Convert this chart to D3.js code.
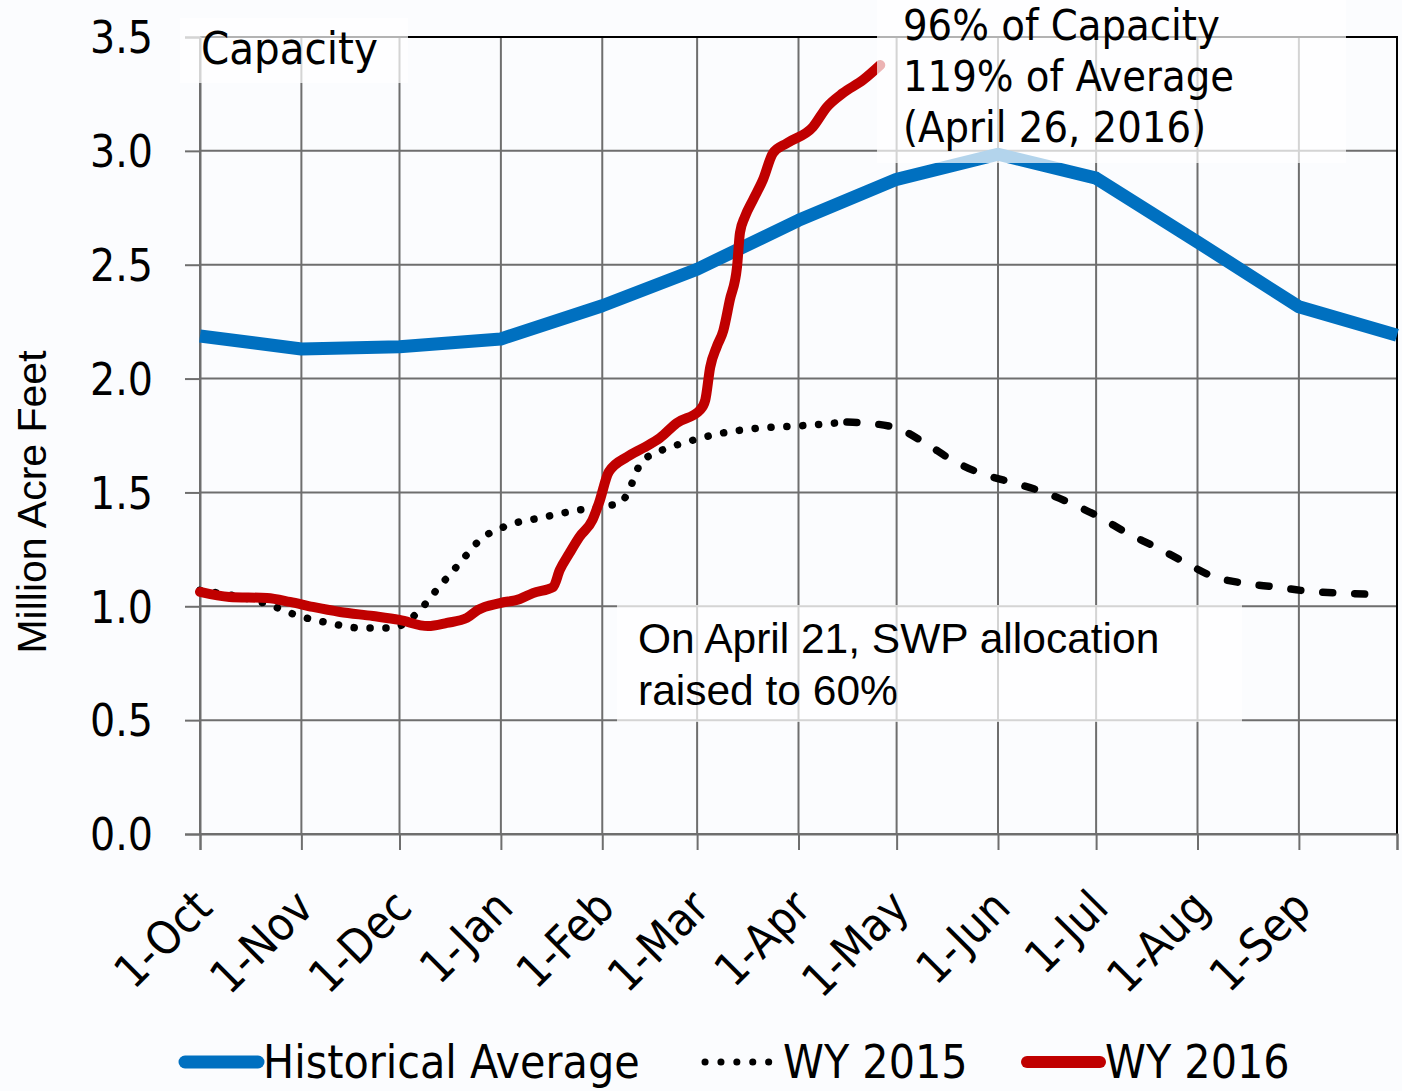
<!DOCTYPE html>
<html>
<head>
<meta charset="utf-8">
<script src="https://cdn.jsdelivr.net/npm/d3@7"></script>
<style>
  html, body { margin: 0; padding: 0; background: #fbfcfe; }
  svg { display: block; }
  .tah { font-family: "DejaVu Sans Condensed", "DejaVu Sans", sans-serif; font-stretch: condensed; }
  .ari { font-family: "Liberation Sans", Arial, sans-serif; }
</style>
</head>
<body>
<script>
// ---------- DATA ----------
const monthDates = ["2015-10-01","2015-11-01","2015-12-01","2016-01-01","2016-02-01","2016-03-01",
                    "2016-04-01","2016-05-01","2016-06-01","2016-07-01","2016-08-01","2016-09-01","2016-10-01"];
const monthLabels = ["1-Oct","1-Nov","1-Dec","1-Jan","1-Feb","1-Mar","1-Apr","1-May","1-Jun","1-Jul","1-Aug","1-Sep",""];
const historicalAverage = [2.187, 2.13, 2.14, 2.174, 2.32, 2.48, 2.695, 2.875, 2.985, 2.88, 2.6, 2.315, 2.19];

// days after 1-Oct
const wy2015Days = [0, 20.5, 29.7, 39.4, 48.9, 58.7, 62, 66.7, 72.8, 79.2, 85.6, 94.5, 104, 114, 123.5, 128.7,
                    131, 135, 139.4, 149, 158.4, 168.5, 183, 197.8, 203, 213, 221.7, 230, 238.5, 247.7, 257,
                    266, 275, 283.4, 292.3, 300.9, 309.4, 318.9, 328.7, 338.5, 348.3, 360.8];
const wy2015Values = [1.07, 1.01, 0.96, 0.927, 0.905, 0.905, 0.92, 0.975, 1.08, 1.186, 1.291, 1.357, 1.388, 1.418, 1.44, 1.454,
                      1.506, 1.634, 1.673, 1.722, 1.757, 1.779, 1.792, 1.809, 1.805, 1.783, 1.717, 1.642, 1.585, 1.546, 1.506,
                      1.454, 1.392, 1.322, 1.26, 1.195, 1.133, 1.102, 1.085, 1.067, 1.058, 1.052];
const wy2015DashFromDay = 200;

const wy2016Days = [0, 9, 20.5, 27.5, 34.5, 42.8, 52.9, 61, 69.7, 75.5, 81.6, 85, 91.7, 97.8, 101.8, 108,
                    110, 113, 116, 120, 122, 125, 130.6, 135.5, 140.6, 145.8, 152.9, 154.5, 156, 158, 160, 162,
                    164.2, 165.1, 166.6, 169.1, 172.1, 175.2, 179.5, 187.4, 191.7, 196.6, 202.7, 208];
const wy2016Values = [1.063, 1.041, 1.036, 1.019, 0.997, 0.975, 0.957, 0.94, 0.913, 0.927, 0.949, 0.984, 1.014, 1.032, 1.058, 1.085,
                      1.159, 1.234, 1.304, 1.379, 1.454, 1.59, 1.656, 1.695, 1.739, 1.805, 1.862, 1.906, 2.05, 2.14, 2.21, 2.345,
                      2.49, 2.64, 2.71, 2.785, 2.872, 2.99, 3.034, 3.105, 3.193, 3.254, 3.311, 3.377];

const yTicks = [0, 0.5, 1.0, 1.5, 2.0, 2.5, 3.0, 3.5];
const seriesNames = ["Historical Average", "WY 2015", "WY 2016"];
const colors = { hist: "#0070c0", wy15: "#000000", wy16: "#c00000" };

// ---------- SETUP ----------
const W = 1402, H = 1091;
const plot = { left: 200, right: 1397, top: 37, bottom: 834 };
const parse = d3.timeParse("%Y-%m-%d");
const start = parse(monthDates[0]);
const end = parse(monthDates[monthDates.length - 1]);

const x = d3.scaleTime().domain([start, end]).range([plot.left, plot.right]);
const y = d3.scaleLinear().domain([0, 3.5]).range([plot.bottom, plot.top]);

const svg = d3.select("body").append("svg").attr("width", W).attr("height", H);
svg.append("rect").attr("width", W).attr("height", H).attr("fill", "#fbfcfe");

const tickDates = monthDates.map(parse);
const gridColor = "#6e6e6e";

// gridlines
svg.append("g").selectAll("line").data(yTicks).join("line")
  .attr("x1", plot.left).attr("x2", plot.right)
  .attr("y1", d => y(d)).attr("y2", d => y(d))
  .attr("stroke", gridColor).attr("stroke-width", 2);
svg.append("g").selectAll("line").data(tickDates).join("line")
  .attr("x1", d => x(d)).attr("x2", d => x(d))
  .attr("y1", plot.top).attr("y2", plot.bottom)
  .attr("stroke", gridColor).attr("stroke-width", 2);

// border top/right
svg.append("path")
  .attr("d", `M${plot.left},${plot.top}H${plot.right}V${plot.bottom}`)
  .attr("fill", "none").attr("stroke", "#000").attr("stroke-width", 2);

// axes
const yAxis = svg.append("g").attr("transform", `translate(${plot.left},0)`)
  .call(d3.axisLeft(y).tickValues(yTicks).tickFormat(d3.format(".1f")).tickSize(15).tickPadding(32));
yAxis.select(".domain").attr("stroke", gridColor).attr("stroke-width", 2);
yAxis.selectAll(".tick line").attr("stroke", gridColor).attr("stroke-width", 2);
yAxis.selectAll(".tick text").attr("class", "tah").attr("font-size", 44).attr("fill", "#000").attr("dy", "0.36em");

const xAxis = svg.append("g").attr("transform", `translate(0,${plot.bottom})`)
  .call(d3.axisBottom(x).tickValues(tickDates).tickFormat((d, i) => monthLabels[i]).tickSize(16));
xAxis.select(".domain").attr("stroke", gridColor).attr("stroke-width", 2);
xAxis.selectAll(".tick line").attr("stroke", gridColor).attr("stroke-width", 2);
xAxis.selectAll(".tick text")
  .attr("class", "tah").attr("font-size", 46).attr("fill", "#000")
  .attr("text-anchor", "end").attr("y", 0).attr("dy", 0)
  .attr("transform", "translate(14,76) rotate(-45)");

// lines
const dayDate = d => start.getTime() + d * 86400000;
const lineHist = d3.line().x((d, i) => x(tickDates[i])).y(d => y(d));
svg.append("path").datum(historicalAverage)
  .attr("d", lineHist).attr("fill", "none").attr("stroke", colors.hist)
  .attr("stroke-width", 13).attr("stroke-linejoin", "round");

const pts15 = wy2015Days.map((d, i) => ({ d, v: wy2015Values[i] }));
const line15 = d3.line().curve(d3.curveMonotoneX).x(p => x(new Date(dayDate(p.d)))).y(p => y(p.v));
svg.append("path").datum(pts15.filter(p => p.d <= wy2015DashFromDay))
  .attr("d", line15).attr("fill", "none").attr("stroke", colors.wy15)
  .attr("stroke-width", 7.5).attr("stroke-linecap", "round").attr("stroke-dasharray", "0.1 15.8");
svg.append("path").datum(pts15.filter(p => p.d >= wy2015DashFromDay - 3))
  .attr("d", line15).attr("fill", "none").attr("stroke", colors.wy15)
  .attr("stroke-width", 7.5).attr("stroke-linecap", "round").attr("stroke-dasharray", "10 22");

const pts16 = wy2016Days.map((d, i) => ({ d, v: wy2016Values[i] }));
const line16 = d3.line().curve(d3.curveMonotoneX).x(p => x(new Date(dayDate(p.d)))).y(p => y(p.v));
svg.append("path").datum(pts16)
  .attr("d", line16).attr("fill", "none").attr("stroke", colors.wy16)
  .attr("stroke-width", 10).attr("stroke-linecap", "round").attr("stroke-linejoin", "round");

// annotation boxes (semi-transparent)
const boxes = [
  { x: 180, y: 18, w: 228, h: 65 },
  { x: 877, y: 0, w: 469, h: 163 },
  { x: 617, y: 605, w: 625, h: 117 }
];
svg.append("g").selectAll("rect").data(boxes).join("rect")
  .attr("x", d => d.x).attr("y", d => d.y).attr("width", d => d.w).attr("height", d => d.h)
  .attr("fill", "#fff").attr("fill-opacity", 0.7);

// texts
svg.append("text").attr("class", "tah").attr("x", 201).attr("y", 64).attr("font-size", 45).text("Capacity");
const topNote = ["96% of Capacity", "119% of Average", "(April 26, 2016)"];
svg.append("g").selectAll("text").data(topNote).join("text")
  .attr("class", "tah").attr("x", 903).attr("y", (d, i) => 40 + i * 51).attr("font-size", 43).text(d => d);
const swpNote = ["On April 21, SWP allocation", "raised to 60%"];
svg.append("g").selectAll("text").data(swpNote).join("text")
  .attr("class", "ari").attr("x", 638).attr("y", (d, i) => 653 + i * 52).attr("font-size", 42.5).text(d => d);

svg.append("text").attr("class", "ari").attr("font-size", 41)
  .attr("transform", "translate(46,502) rotate(-90)").attr("text-anchor", "middle").text("Million Acre Feet");

// legend
const legend = [
  { name: seriesNames[0], x: 185, color: colors.hist, w: 13, dash: null },
  { name: seriesNames[1], x: 705, color: colors.wy15, w: 7, dash: "0.1 15.8" },
  { name: seriesNames[2], x: 1027, color: colors.wy16, w: 12, dash: null }
];
const lg = svg.append("g").selectAll("g").data(legend).join("g");
lg.append("line").attr("x1", d => d.x).attr("x2", d => d.x + 73).attr("y1", 1062).attr("y2", 1062)
  .attr("stroke", d => d.color).attr("stroke-width", d => d.w).attr("stroke-linecap", "round")
  .attr("stroke-dasharray", d => d.dash);
lg.append("text").attr("class", "tah").attr("x", d => d.x + 78).attr("y", 1078).attr("font-size", 46).text(d => d.name);
</script>
</body>
</html>
